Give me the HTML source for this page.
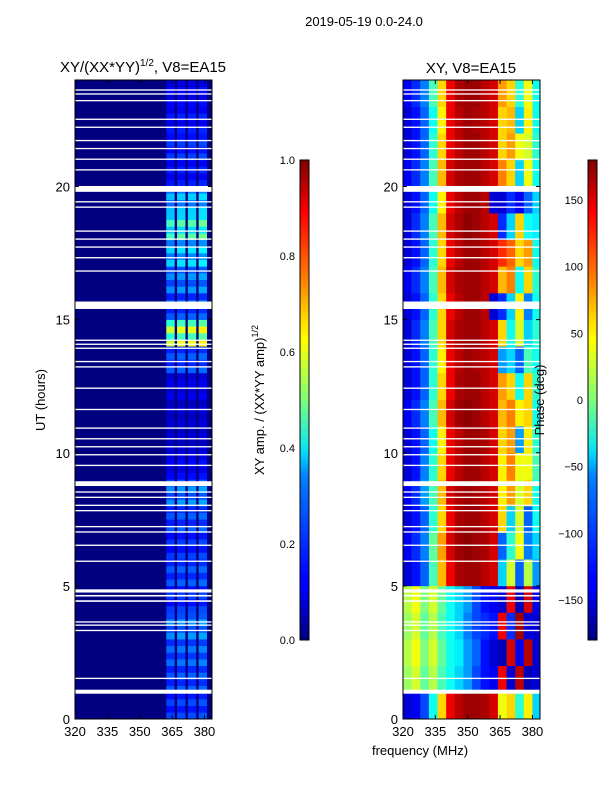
<!DOCTYPE html>
<html><head><meta charset="utf-8"><style>
html,body{margin:0;padding:0;background:#fff;width:600px;height:800px;overflow:hidden}
svg text{font-family:"Liberation Sans",sans-serif;fill:#000}
</style></head><body>
<svg id="fig" width="600" height="800" xmlns="http://www.w3.org/2000/svg">
<defs>
<linearGradient id="jet" x1="0" y1="1" x2="0" y2="0">
<stop offset="0" stop-color="#00007f"/><stop offset="0.11" stop-color="#0000ff"/><stop offset="0.125" stop-color="#0000ff"/>
<stop offset="0.34" stop-color="#0080ff"/><stop offset="0.375" stop-color="#00c0ff"/><stop offset="0.4" stop-color="#0de5f1"/>
<stop offset="0.5" stop-color="#7dff7a"/><stop offset="0.625" stop-color="#ffff00"/><stop offset="0.66" stop-color="#ffe200"/>
<stop offset="0.75" stop-color="#ff8000"/><stop offset="0.89" stop-color="#ff0000"/><stop offset="1" stop-color="#7f0000"/>
</linearGradient>
</defs>
<text x="364" y="26" font-size="13" text-anchor="middle">2019-05-19 0.0-24.0</text>
<text x="143" y="72" font-size="15" text-anchor="middle">XY/(XX*YY)<tspan font-size="10" dy="-6">1/2</tspan><tspan dy="6">, V8=EA15</tspan></text>
<text x="471" y="73" font-size="15" text-anchor="middle">XY, V8=EA15</text>
<g id="amp"></g>
<g id="ph"></g>
<g id="axes"></g>
<text x="45" y="400" font-size="13" text-anchor="middle" transform="rotate(-90 45 400)">UT (hours)</text>
<text x="420" y="755" font-size="13" text-anchor="middle">frequency (MHz)</text>
<text x="264" y="400" font-size="13" text-anchor="middle" transform="rotate(-90 264 400)">XY amp. / (XX*YY amp)<tspan font-size="9" dy="-6">1/2</tspan></text>
<text x="544" y="400" font-size="13" text-anchor="middle" transform="rotate(-90 544 400)">Phase (deg)</text>
<rect x="300" y="160" width="9" height="480" fill="url(#jet)" stroke="#000" stroke-width="1"/>
<rect x="588" y="160" width="9" height="480" fill="url(#jet)" stroke="#000" stroke-width="1"/>
</svg>
<script>
// amplitude per hour for the 4 sub-bands (hour 0..23)
const ampHours=[0.18,0.2,0.22,0.25,0.17,0.2,0.17,0.2,0.25,0.12,0.08,0.08,0.1,0.2,0.55,0.2,0.25,0.32,0.42,0.3,0.14,0.17,0.14,0.12];
const ampBandStarts=[362,367,372,377];
const ampBandScale=[0.95,1.0,1.0,1.05];
// phase grid: 16 channels (320..384 step 4), rows = hours 0..23
const phaseCols=[320,324,328,332,336,340,344,348,352,356,360,364,368,372,376,380];
const phaseRows=[
[-150,-140,-110,-40,60,140,160,170,170,165,150,40,60,-30,50,-60],
[10,30,-10,20,-20,-40,-60,-80,-110,-130,-140,140,-150,160,-160,-150],
[20,40,0,30,-10,-40,-50,-80,-100,-130,-150,-160,150,-140,160,-150],
[10,30,-10,20,-20,-40,-60,-90,-110,-120,-130,140,-120,170,-150,-150],
[20,40,0,30,-10,-40,-60,-80,-110,-130,-140,-150,140,-160,150,-140],
[-150,-130,-100,-20,70,140,165,170,170,160,150,-60,30,-100,20,-80],
[-140,-120,-90,-10,80,150,170,175,170,165,150,-100,-30,40,-90,-60],
[-150,-130,-100,-30,60,140,165,170,170,160,150,60,-60,30,-100,-40],
[-140,-120,-80,-20,70,150,165,170,165,160,150,50,80,30,60,-40],
[-150,-130,-90,-30,60,140,160,170,170,160,150,50,90,40,40,-20],
[-150,-130,-100,-40,50,140,160,170,170,165,150,60,80,-80,50,-30],
[-140,-120,-90,-20,70,150,170,175,170,160,150,70,90,50,60,-40],
[-150,-130,-100,-30,60,140,165,170,170,160,150,80,60,-40,60,-30],
[-150,-130,-100,-30,50,140,160,170,165,160,150,-80,-60,-100,-20,-40],
[-150,-120,-90,-20,60,150,165,170,170,160,150,60,-40,30,-60,-30],
[-150,-130,-100,-30,60,140,160,170,170,160,-150,-120,-60,50,-90,-40],
[-140,-120,-90,-20,70,150,165,170,170,160,150,70,90,-40,60,-30],
[-150,-130,-100,-30,60,140,160,170,170,160,150,120,100,60,80,-40],
[-150,-120,-90,-20,70,150,165,175,170,160,150,-120,-60,60,-40,-50],
[-150,-130,-100,-40,50,140,160,170,170,160,-150,-150,-120,-140,-100,-60],
[-140,-120,-90,-20,70,150,165,170,170,160,150,90,60,-60,40,-40],
[-150,-130,-100,-30,60,140,160,170,170,160,150,60,80,40,30,-30],
[-150,-130,-100,-40,50,140,160,170,165,160,150,60,70,-60,50,-40],
[-140,-120,-90,-20,60,140,165,170,170,160,150,80,60,-30,40,-40]
];
// flagged (white) time intervals: start hour, duration hour
const flagStart=[0.95,1.5,3.3,3.5,3.62,4.4,4.6,4.75,5.9,6.5,7.0,7.2,7.8,8.0,8.3,8.5,8.75,9.5,9.9,10.2,10.5,10.9,11.6,12.4,13.2,13.4,13.9,14.05,14.2,15.4,16.8,17.3,17.7,18.0,18.3,19.2,19.4,19.8,20.6,21.0,21.4,21.7,22.2,22.5,23.2,23.45,23.6];
const flagDur=[0.15,0.05,0.05,0.05,0.05,0.06,0.06,0.12,0.05,0.05,0.05,0.05,0.05,0.05,0.05,0.05,0.18,0.05,0.05,0.05,0.05,0.05,0.05,0.05,0.05,0.05,0.05,0.05,0.05,0.28,0.05,0.05,0.05,0.05,0.05,0.05,0.05,0.22,0.05,0.05,0.05,0.05,0.05,0.05,0.05,0.05,0.05];
const xTicks=[320,335,350,365,380];
const yTicks=[0,5,10,15,20];
const ampTicks=[0,0.2,0.4,0.6,0.8,1.0];
const phTicks=[-150,-100,-50,0,50,100,150];

const NS="http://www.w3.org/2000/svg";
const F0=320,F1=383.5,PX=[75,403],PW=137,PY0=719,PY1=80;
const xs=(p,f)=>PX[p]+(f-F0)/(F1-F0)*PW;
const ys=h=>PY0-h/24*(PY0-PY1);
function jet(v){v=Math.max(0,Math.min(1,v));
 const c=x=>Math.round(255*Math.max(0,Math.min(1,1.5-Math.abs(4*v-x))));
 return `rgb(${c(3)},${c(2)},${c(1)})`;}
function mk(tag,attrs,parent){const e=document.createElementNS(NS,tag);for(const k in attrs)e.setAttribute(k,attrs[k]);parent.appendChild(e);return e;}
const amp=document.getElementById('amp'),ph=document.getElementById('ph'),axes=document.getElementById('axes');
let bg=mk('rect',{x:PX[0],y:PY1,width:PW,height:PY0-PY1,fill:jet(0)},amp);


for(let h=0;h<24;h++){
 ampBandStarts.forEach((f,i)=>{
  const x0=xs(0,f+0.3),x1=xs(0,f+4.2);
  for(let s=0;s<4;s++){
   const v=ampHours[h]*ampBandScale[i]*(s%2?0.8:1.1);
   const r=mk('rect',{x:x0,y:ys(h+(s+1)/4),width:x1-x0,height:(PY0-PY1)/96+0.3,fill:jet(v)},amp);
   
   
  }
 });
}
for(let h=0;h<24;h++){
 phaseCols.forEach((f,i)=>{
  const x0=xs(1,f),x1=xs(1,Math.min(f+4,F1));
  const r=mk('rect',{x:x0,y:ys(h+1),width:x1-x0+0.3,height:(PY0-PY1)/24+0.3,fill:jet((phaseRows[h][i]+180)/360)},ph);
  
  
 });
}
flagStart.forEach((s,i)=>{
 [0,1].forEach(p=>{
  const r=mk('rect',{x:PX[p],y:ys(s+flagDur[i]),width:PW,height:Math.max(1.2,flagDur[i]/24*(PY0-PY1)),fill:'#fff'},p?ph:amp);
  
  
 });
});
[0,1].forEach(p=>{
 const fr=mk('rect',{x:PX[p],y:PY1,width:PW,height:PY0-PY1,fill:'none',stroke:'#000','stroke-width':1},axes);
 
 
 xTicks.forEach(t=>{
  const x=xs(p,t);
  mk('line',{x1:x,x2:x,y1:PY0,y2:PY0-4,stroke:'#000'},axes);
  mk('line',{x1:x,x2:x,y1:PY1,y2:PY1+4,stroke:'#000'},axes);
  const tx=mk('text',{x:x,y:PY0+17,'font-size':13,'text-anchor':'middle'},axes);
  tx.textContent=t;
  
  
 });
 yTicks.forEach(t=>{
  const y=ys(t);
  mk('line',{x1:PX[p],x2:PX[p]+4,y1:y,y2:y,stroke:'#000'},axes);
  mk('line',{x1:PX[p]+PW,x2:PX[p]+PW-4,y1:y,y2:y,stroke:'#000'},axes);
  const tx=mk('text',{x:PX[p]-5,y:y+5,'font-size':13,'text-anchor':'end'},axes);
  tx.textContent=t;
  
  
 });
});
ampTicks.forEach(t=>{
 const y=640-t*480;
 mk('line',{x1:300,x2:309,y1:y,y2:y,stroke:'#000'},axes);
 const tx=mk('text',{x:295,y:y+4,'font-size':11,'text-anchor':'end'},axes);
 tx.textContent=t.toFixed(1);
 
 
});
phTicks.forEach(t=>{
 const y=640-(t+180)/360*480;
 mk('line',{x1:588,x2:597,y1:y,y2:y,stroke:'#000'},axes);
 const tx=mk('text',{x:583,y:y+4,'font-size':11,'text-anchor':'end'},axes);
 tx.textContent=t<0?'\u2212'+(-t):t;
 
 
});
</script>
</body></html>
